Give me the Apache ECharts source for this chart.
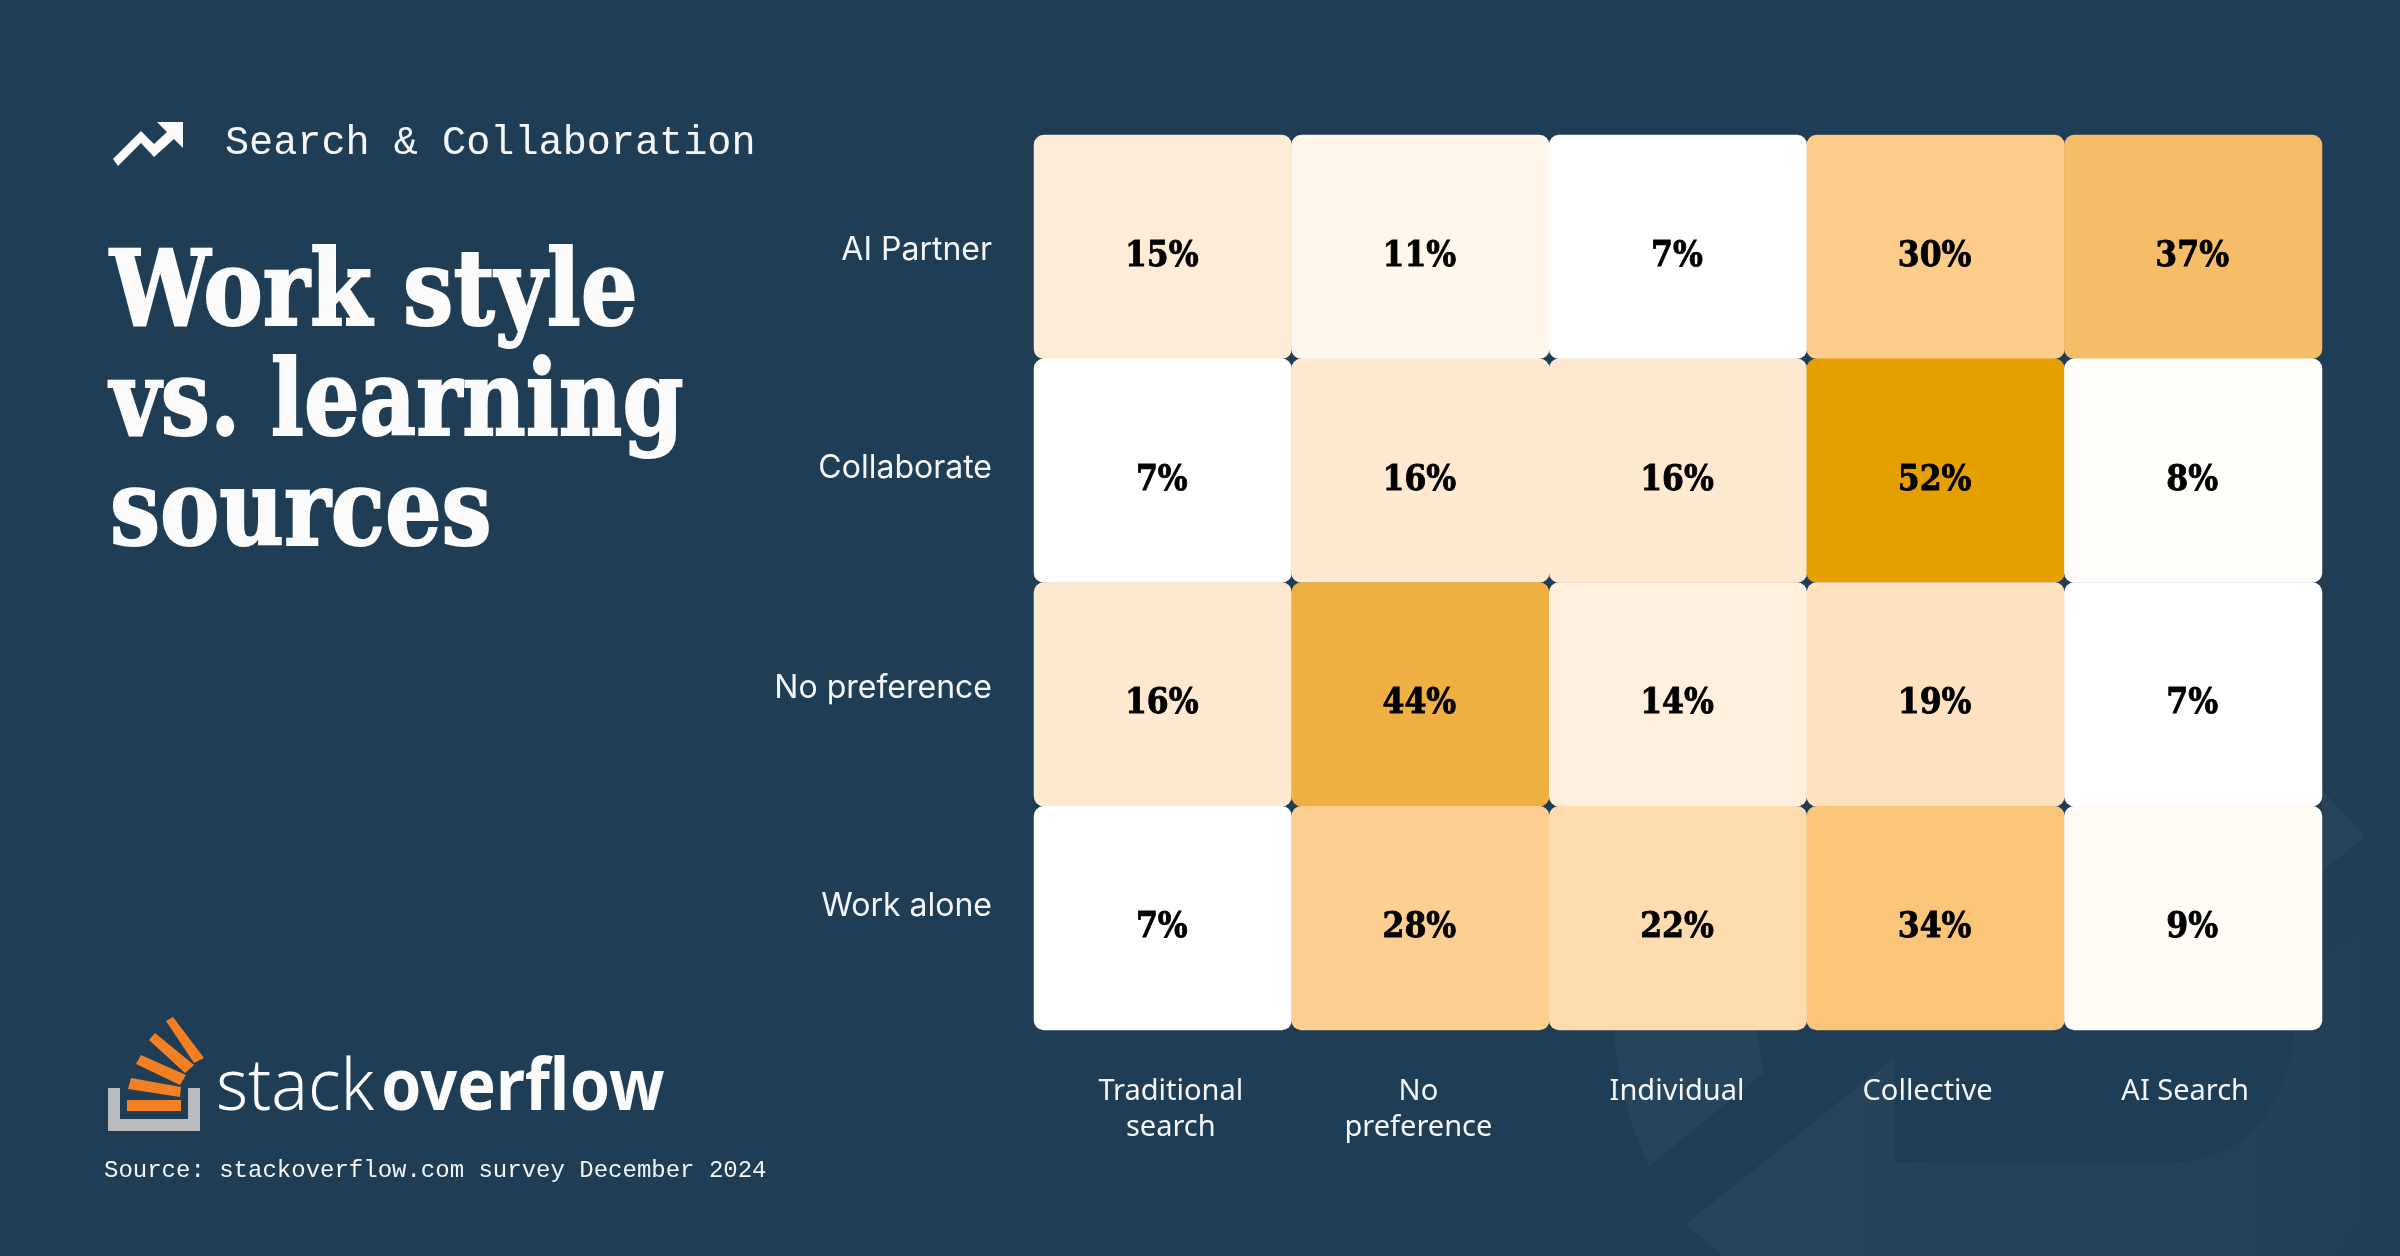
<!DOCTYPE html>
<html>
<head>
<meta charset="utf-8">
<title>Work style vs. learning sources</title>
<style>
  html, body { margin: 0; padding: 0; background: #1f3d55; }
  #chart { width: 2400px; height: 1256px; }
</style>
<script src="https://cdn.jsdelivr.net/npm/echarts@6/dist/echarts.min.js"></script>
</head>
<body>
<div id="chart"></div>
<script>
var dom = document.getElementById("chart");
var myChart = echarts.init(dom, null, { renderer: "canvas", width: 2400, height: 1256 });

var sources = ["Traditional\nsearch", "No\npreference", "Individual", "Collective", "AI Search"];
var styles = ["AI Partner", "Collaborate", "No preference", "Work alone"];

var aiPartner = [15, 11, 7, 30, 37];
var collaborate = [7, 16, 16, 52, 8];
var noPreference = [16, 44, 14, 19, 7];
var workAlone = [7, 28, 22, 34, 9];
var rows = [aiPartner, collaborate, noPreference, workAlone];

// colour ramp, one stop every 5 points from 7 to 52
var ramp = ["#ffffff", "#fff4e7", "#ffe7cb", "#ffdcb0", "#fdd296", "#fcc884", "#f6bd69", "#f2b24f", "#ecaa30", "#e5a000"];

// labels do not sit exactly on the cell centres in the original
var xShift = [8, -2, -1, -8, -8];
var yShift = [3, -2.5, -6.5, -11.5];

var heatData = [];
rows.forEach(function (row, y) {
    row.forEach(function (v, x) {
        heatData.push([x, y, v]);
    });
});

var xRich = {};
sources.forEach(function (s, i) {
    var d = xShift[i];
    xRich["c" + i] = {
        fontFamily: "Noto Sans",
        fontSize: 29,
        lineHeight: 36,
        color: "#f4f6f8",
        padding: [0, d < 0 ? -2 * d : 0, 0, d > 0 ? 2 * d : 0]
    };
});

var yRich = {};
styles.forEach(function (s, i) {
    var d = yShift[i];
    yRich["r" + i] = {
        fontFamily: "Inter",
        fontSize: 32,
        lineHeight: 36,
        color: "#f4f6f8",
        padding: [d > 0 ? 2 * d : 0, 0, d < 0 ? -2 * d : 0, 0]
    };
});

function slab(text, y, squeeze) {
    return {
        type: "text",
        x: 110,
        y: y,
        scaleX: squeeze,
        style: {
            text: text,
            fill: "#fbfbfb",
            stroke: "#fbfbfb",
            lineWidth: 2,
            fontFamily: "DejaVu Serif",
            fontWeight: "bold",
            fontSize: 104,
            textVerticalAlign: "bottom"
        }
    };
}

// quadratic curve as a run of points, for the faint background shapes
function curve(p0, c, p1) {
    var pts = [];
    for (var t = 0; t <= 1.001; t += 0.1) {
        pts.push([
            (1 - t) * (1 - t) * p0[0] + 2 * t * (1 - t) * c[0] + t * t * p1[0],
            (1 - t) * (1 - t) * p0[1] + 2 * t * (1 - t) * c[1] + t * t * p1[1]
        ]);
    }
    return pts;
}

var faintFill = {
    type: "linear", x: 0, y: 0, x2: 1, y2: 0,
    colorStops: [
        { offset: 0, color: "#26455c" },
        { offset: 0.8, color: "#23425a" },
        { offset: 1, color: "#203e56" }
    ]
};

var option = {
    backgroundColor: "#1f3d55",
    animation: false,
    grid: { left: 1034, top: 135, width: 1288, height: 895 },
    xAxis: {
        type: "category",
        data: sources,
        axisLine: { show: false },
        axisTick: { show: false },
        splitLine: { show: false },
        axisLabel: {
            interval: 0,
            margin: 44,
            formatter: function (v, i) {
                return v.split("\n").map(function (l) {
                    return "{c" + i + "|" + l + "}";
                }).join("\n");
            },
            rich: xRich
        }
    },
    yAxis: {
        type: "category",
        inverse: true,
        data: styles,
        axisLine: { show: false },
        axisTick: { show: false },
        splitLine: { show: false },
        axisLabel: {
            interval: 0,
            margin: 42,
            formatter: function (v, i) {
                return "{r" + i + "|" + v + "}";
            },
            rich: yRich
        }
    },
    visualMap: {
        show: false,
        type: "continuous",
        min: 7,
        max: 52,
        dimension: 2,
        inRange: { color: ramp }
    },
    series: [
        {
            type: "heatmap",
            data: heatData,
            itemStyle: { borderRadius: 10 },
            label: {
                show: true,
                color: "#000000",
                textBorderColor: "#000000",
                textBorderWidth: 0.8,
                fontFamily: "DejaVu Serif Condensed",
                fontWeight: "bold",
                fontSize: 35,
                offset: [-1, 10],
                formatter: function (p) {
                    return p.value[2] + "%";
                }
            }
        }
    ],
    graphic: {
        elements: [
            // faint logo shapes behind the lower right corner
            {
                type: "polygon",
                z: -1,
                shape: { points: [[1614, 1030], [1757, 1030], [1764, 1073]].concat(curve([1649, 1166], [1618, 1100], [1614, 1030])) },
                style: { fill: "#26455c" }
            },
            {
                type: "polygon",
                z: -1,
                shape: { points: [[2322, 790], [2365, 837], [2322, 871]] },
                style: { fill: "#26455c" }
            },
            {
                type: "polygon",
                z: -1,
                shape: {
                    points: [[1895, 1057], [1686, 1224], [1723, 1256]]
                        .concat(curve([2333, 1256], [2380, 1210], [2400, 1150]))
                        .concat([[2400, 897], [2322, 957], [2322, 1030]])
                        .concat(curve([2295, 1030], [2280, 1163], [2163, 1163]))
                        .concat([[1895, 1163]])
                },
                style: { fill: faintFill }
            },
            // trend arrow
            {
                type: "polygon",
                shape: {
                    points: [[157, 122], [183, 122], [183, 148], [174, 139], [154, 157], [141, 143], [118, 166], [113, 159], [141, 131], [154, 144], [167, 132]]
                },
                style: { fill: "#fbfbfb" }
            },
            {
                type: "text",
                x: 225,
                y: 143,
                style: {
                    text: "Search & Collaboration",
                    fill: "#f4f6f8",
                    fontFamily: "Liberation Mono",
                    fontSize: 40.2,
                    textVerticalAlign: "middle"
                }
            },
            slab("Work style", 350, 0.86),
            slab("vs. learning", 460, 0.84),
            slab("sources", 570, 0.855),
            // stack overflow logo
            {
                type: "polygon",
                shape: { points: [[108, 1088], [120, 1088], [120, 1119], [188, 1119], [188, 1088], [200, 1088], [200, 1131], [108, 1131]] },
                style: { fill: "#bcbbbb" }
            },
            { type: "polygon", shape: { points: [[127, 1100], [181, 1100], [181, 1111], [127, 1111]] }, style: { fill: "#f48024" } },
            { type: "polygon", shape: { points: [[131, 1078], [181, 1087], [180, 1097], [128, 1089]] }, style: { fill: "#f48024" } },
            { type: "polygon", shape: { points: [[141, 1055], [186, 1075], [180, 1085], [136, 1064]] }, style: { fill: "#f48024" } },
            { type: "polygon", shape: { points: [[155, 1033], [194, 1065], [185, 1073], [149, 1040]] }, style: { fill: "#f48024" } },
            { type: "polygon", shape: { points: [[173, 1017], [204, 1058], [194, 1063], [166, 1021]] }, style: { fill: "#f48024" } },
            {
                type: "text",
                x: 216,
                y: 1125,
                scaleX: 0.95,
                style: {
                    text: "stack",
                    fill: "#fbfbfb",
                    fontFamily: "Noto Sans",
                    fontWeight: 300,
                    fontSize: 72,
                    textVerticalAlign: "bottom"
                }
            },
            {
                type: "text",
                x: 381,
                y: 1125,
                scaleX: 0.9,
                style: {
                    text: "overflow",
                    fill: "#fbfbfb",
                    fontFamily: "Noto Sans",
                    fontWeight: "bold",
                    fontSize: 72,
                    textVerticalAlign: "bottom"
                }
            },
            {
                type: "text",
                x: 104,
                y: 1171,
                style: {
                    text: "Source: stackoverflow.com survey December 2024",
                    fill: "#f4f6f8",
                    fontFamily: "Liberation Mono",
                    fontSize: 24,
                    textVerticalAlign: "middle"
                }
            }
        ]
    }
};
myChart.setOption(option);
</script>
</body>
</html>
